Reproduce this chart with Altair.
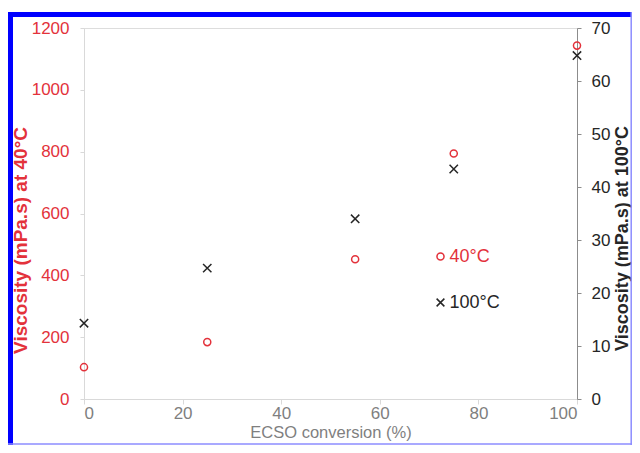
import altair as alt
import pandas as pd

# ---- data ----
conversion = [0, 25, 55, 75, 100]            # ECSO conversion (%)
visc_40 = [103, 184, 452, 794, 1143]          # viscosity at 40 °C (mPa.s), left axis
visc_100 = [14.3, 24.7, 34.0, 43.4, 64.8]     # viscosity at 100 °C (mPa.s), right axis
label_40 = "40°C"
label_100 = "100°C"
x_ticks = [0, 20, 40, 60, 80, 100]
left_ticks = [0, 200, 400, 600, 800, 1000, 1200]
right_ticks = [0, 10, 20, 30, 40, 50, 60, 70]

df = pd.DataFrame({
    "conv": conversion,
    "v40": visc_40,
    "v100": visc_100,
    "s40": [label_40] * len(conversion),
    "s100": [label_100] * len(conversion),
})

W, H = 493, 371
RED = "#e3323b"
DARK = "#262626"
FONT = "Liberation Sans"
XPATH = "M-1,-1L1,1M-1,1L1,-1"

x_enc = alt.X(
    "conv:Q",
    scale=alt.Scale(domain=[0, 100], nice=False, zero=False),
    axis=alt.Axis(
        values=x_ticks, title="ECSO conversion (%)", grid=False, format="d",
        domainColor="#d9d9d9", tickColor="#d9d9d9", tickSize=5,
        labelColor="#7f7f7f", titleColor="#7f7f7f", labelFontSize=17,
        titleFontSize=16.5, titleFontWeight="normal", labelPadding=1,
        titlePadding=3, labelFont=FONT, titleFont=FONT,
    ),
)

circles = alt.Chart(df).mark_point(
    shape="circle", filled=False, stroke=RED, strokeWidth=1.5, size=50, opacity=1
).encode(
    x=x_enc,
    y=alt.Y(
        "v40:Q",
        scale=alt.Scale(domain=[0, 1200], nice=False),
        axis=alt.Axis(
            orient="left", values=left_ticks, title="Viscosity (mPa.s) at 40°C",
            format="d", grid=False, domainColor="#d9d9d9", tickColor="#d9d9d9",
            tickSize=4, labelColor=RED, titleColor=RED, labelFontSize=17,
            titleFontSize=19, titleFontWeight="bold", labelPadding=11,
            labelFont=FONT, titleFont=FONT, titleAngle=270, titleX=-64,
            titleY=212, titleBaseline="middle", titleAlign="center",
        ),
    ),
    shape=alt.Shape(
        "s40:N",
        scale=alt.Scale(domain=[label_40], range=["circle"]),
        legend=alt.Legend(
            title=None, orient="none", legendX=347.5, legendY=219.5, padding=0,
            labelColor=RED, labelFontSize=18, labelFont=FONT, labelOffset=0,
            symbolSize=50, symbolStrokeColor=RED, symbolFillColor="transparent",
            symbolStrokeWidth=1.5, symbolType="circle",
        ),
    ),
)

crosses = alt.Chart(df).mark_point(
    shape=XPATH, filled=False, stroke=DARK, strokeWidth=1.5, size=70, opacity=1
).encode(
    x=x_enc,
    y=alt.Y(
        "v100:Q",
        scale=alt.Scale(domain=[0, 70], nice=False),
        axis=alt.Axis(
            orient="right", values=right_ticks, title="Viscosity (mPa.s) at 100°C",
            format="d", grid=False, domainColor="#8c8c8c", tickColor="#8c8c8c",
            tickSize=4, labelColor=DARK, titleColor=DARK, labelFontSize=17,
            titleFontSize=18, titleFontWeight="bold", labelPadding=10,
            labelFont=FONT, titleFont=FONT, titleAngle=270, titleX=45,
            titleY=210, titleBaseline="middle", titleAlign="center",
        ),
    ),
    shape=alt.Shape(
        "s100:N",
        scale=alt.Scale(domain=[label_100], range=[XPATH]),
        legend=alt.Legend(
            title=None, orient="none", legendX=347.5, legendY=265.5, padding=0,
            labelColor=DARK, labelFontSize=18, labelFont=FONT, labelOffset=0,
            symbolSize=60, symbolStrokeColor=DARK, symbolFillColor="transparent",
            symbolStrokeWidth=1.5, symbolType=XPATH,
        ),
    ),
)

# ---- decorative blue frame around the figure ----
one = pd.DataFrame({"k": [0]})
frame_left = alt.Chart(one).mark_rule(color="#0000ff", strokeWidth=5).encode(
    x=alt.value(-73.5), y=alt.value(-16), y2=alt.value(417))
frame_top = alt.Chart(one).mark_rule(color="#0000ff", strokeWidth=5).encode(
    x=alt.value(-76), x2=alt.value(548), y=alt.value(-13.5))
frame_right = alt.Chart(one).mark_rule(color="#8c8cff", strokeWidth=1.5).encode(
    x=alt.value(547.2), y=alt.value(-16), y2=alt.value(417))
frame_bottom = alt.Chart(one).mark_rule(color="#8c8cff", strokeWidth=1.5).encode(
    x=alt.value(-76), x2=alt.value(548), y=alt.value(416))

chart = alt.layer(
    circles, crosses, frame_left, frame_top, frame_right, frame_bottom
).resolve_scale(
    y="independent", shape="independent"
).resolve_legend(
    shape="independent"
).properties(
    width=W, height=H,
    autosize=alt.AutoSizeParams(type="none"),
    padding={"left": 76, "top": 20, "right": 55, "bottom": 46},
).configure_view(strokeWidth=0).configure(font=FONT)

chart.save("out.html", embed_options={"renderer": "svg", "actions": False})
